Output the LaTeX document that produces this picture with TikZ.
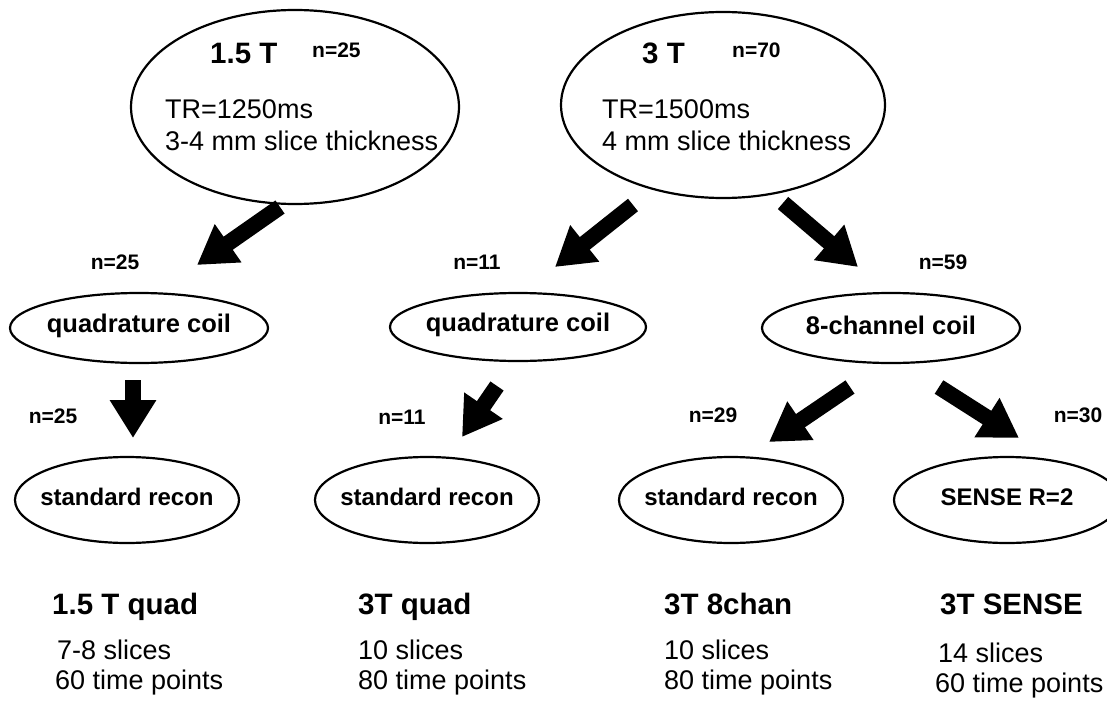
\documentclass[tikz,border=0pt]{standalone}
\usepackage{fontspec}
\setmainfont{Liberation Sans}
\usetikzlibrary{arrows.meta,shapes.geometric}
\begin{document}
\begin{tikzpicture}[x=1pt,y=-1pt,
  oval/.style={draw, ellipse, line width=2.2pt, inner sep=0pt},
  bigarrow/.style={line width=16pt, -{Triangle[length=38pt,width=44pt]}},
  nlab/.style={font=\fontsize{21}{25}\selectfont\bfseries, inner sep=0pt},
  head/.style={font=\fontsize{29.5}{34}\selectfont\bfseries, anchor=base west, inner sep=0pt},
  body/.style={font=\fontsize{27}{32}\selectfont, anchor=base west, inner sep=0pt},
  coil/.style={font=\fontsize{25.5}{30}\selectfont\bfseries, inner sep=0pt},
  recon/.style={font=\fontsize{24}{28}\selectfont\bfseries, inner sep=0pt},
  small/.style={font=\fontsize{21}{25}\selectfont\bfseries, anchor=base west, inner sep=0pt}]
\useasboundingbox (0,0) rectangle (1107,706);

% top ellipses
\node[oval, minimum width=328pt, minimum height=194pt] (e1) at (295,107) {};
\node[head] (e1a) at (210,64) {1.5 T};
\node[small] (e1n) at (312,58) {n=25};
\node[body] (e1b) at (165,118) {TR=1250ms};
\node[body] (e1c) at (165,150) {3-4 mm slice thickness};

\node[oval, minimum width=324pt, minimum height=186pt] (e2) at (723,105) {};
\node[head] (e2a) at (642,64) {3 T};
\node[small] (e2n) at (732,58) {n=70};
\node[body] (e2b) at (602,118) {TR=1500ms};
\node[body] (e2c) at (602,150) {4 mm slice thickness};

% middle ellipses
\node[oval, minimum width=258pt, minimum height=70pt] (q1) at (139,328) {};
\node[coil] (q1t) at (139,326) {quadrature coil};
\node[oval, minimum width=256pt, minimum height=68pt] (q2) at (518,327) {};
\node[coil] (q2t) at (518,325) {quadrature coil};
\node[oval, minimum width=258pt, minimum height=70pt] (c8) at (891,328) {};
\node[coil] (c8t) at (891,325) {8-channel coil};

% bottom ellipses
\node[oval, minimum width=224pt, minimum height=86pt] (s1) at (127,500) {};
\node[recon] (s1t) at (127,497) {standard recon};
\node[oval, minimum width=224pt, minimum height=86pt] (s2) at (427,500) {};
\node[recon] (s2t) at (427,497) {standard recon};
\node[oval, minimum width=224pt, minimum height=86pt] (s3) at (731,500) {};
\node[recon] (s3t) at (731,497) {standard recon};
\node[oval, minimum width=226pt, minimum height=86pt] (s4) at (1007,500) {};
\node[recon] (s4t) at (1007,497) {SENSE R=2};

% arrow end points
\coordinate (a1s) at (280,207); \coordinate (a1e) at (197,265);
\coordinate (a2s) at (633,205); \coordinate (a2e) at (555,267);
\coordinate (a3s) at (783,203); \coordinate (a3e) at (858,267);
\coordinate (a4s) at (133,380); \coordinate (a4e) at (133,438);
\coordinate (a5s) at (497,386); \coordinate (a5e) at (462,437);
\coordinate (a6s) at (850,387); \coordinate (a6e) at (769,442);
\coordinate (a7s) at (939,387); \coordinate (a7e) at (1019,438);
\foreach \i in {1,...,7} \draw[bigarrow] (a\i s) -- (a\i e);

% n labels
\node[nlab] (n1) at (115,262) {n=25};
\node[nlab] (n2) at (477,262) {n=11};
\node[nlab] (n3) at (943,262) {n=59};
\node[nlab] (n4) at (53,416) {n=25};
\node[nlab] (n5) at (402,417) {n=11};
\node[nlab] (n6) at (713,415) {n=29};
\node[nlab] (n7) at (1078,415) {n=30};

% bottom summary
\node[head] (h1) at (52,614) {1.5 T quad};
\node[body] (h1a) at (57,659) {7-8 slices};
\node[body] (h1b) at (55,689) {60 time points};
\node[head] (h2) at (358,614) {3T quad};
\node[body] (h2a) at (358,659) {10 slices};
\node[body] (h2b) at (358,689) {80 time points};
\node[head] (h3) at (664,614) {3T 8chan};
\node[body] (h3a) at (664,659) {10 slices};
\node[body] (h3b) at (664,689) {80 time points};
\node[head] (h4) at (940,614) {3T SENSE};
\node[body] (h4a) at (938,662) {14 slices};
\node[body] (h4b) at (935,692) {60 time points};
\end{tikzpicture}
\end{document}
